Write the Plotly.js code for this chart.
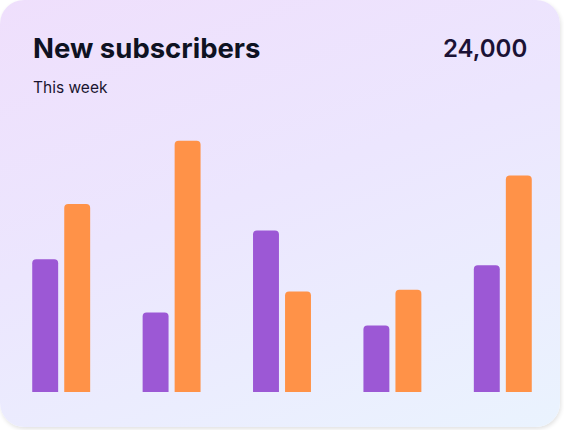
<!DOCTYPE html>
<html>
<head>
<meta charset="utf-8">
<script src="https://cdn.plot.ly/plotly-3.0.1.min.js"></script>
<style>
  html, body { margin: 0; padding: 0; background: #ffffff; }
  #wrap { position: relative; width: 564px; height: 430px; overflow: hidden; background: #ffffff; }
  #card {
    position: absolute; left: 0; top: 0; width: 560px; height: 427px;
    border-radius: 24px;
    background: linear-gradient(160deg, #EFDFFC 0%, #ECE6FE 45%, #EAF3FE 100%);
    box-shadow: 1px 2px 4px rgba(0,0,0,0.12);
  }
  #chart { position: absolute; left: 0; top: 0; width: 564px; height: 430px; }
</style>
</head>
<body>
<div id="wrap">
  <div id="card"></div>
  <div id="chart"></div>
</div>
<script>
// Data
const categories = ["Mon", "Tue", "Wed", "Thu", "Fri"];
const seriesA = [2220, 1330, 2700, 1110, 2120];   // purple
const seriesB = [3140, 4200, 1680, 1710, 3620];   // orange
const titleText = "New subscribers";
const subtitleText = "This week";
const totalText = "24,000";

const traces = [
  { type: "bar", x: categories, y: seriesA, name: "A",
    marker: { color: "#9C58D5", line: { width: 0 } }, hoverinfo: "none" },
  { type: "bar", x: categories, y: seriesB, name: "B",
    marker: { color: "#FF9248", line: { width: 0 } }, hoverinfo: "none" }
];

const layout = {
  width: 564, height: 430,
  margin: { l: 6, r: 6, t: 120, b: 38, pad: 0 },
  paper_bgcolor: "rgba(0,0,0,0)",
  plot_bgcolor: "rgba(0,0,0,0)",
  barmode: "group",
  bargap: 0.42,
  bargroupgap: 0.19,
  barcornerradius: 4,
  showlegend: false,
  xaxis: { type: "category", range: [-0.5, 4.5], showticklabels: false, showgrid: false,
           zeroline: false, showline: false, ticks: "", fixedrange: true },
  yaxis: { range: [0, 4546], showticklabels: false, showgrid: false, zeroline: false,
           showline: false, ticks: "", fixedrange: true },
  font: { family: "Inter, 'Noto Sans', sans-serif" },
  annotations: [
    { text: titleText, xref: "paper", yref: "paper", x: (33 - 6) / 552, y: (392 - 48) / 272,
      xanchor: "left", yanchor: "middle", showarrow: false, xshift: -2,
      font: { size: 27.5, color: "#0E1222", weight: 700, family: "Inter, sans-serif" } },
    { text: subtitleText, xref: "paper", yref: "paper", x: (33 - 6) / 552, y: (392 - 87) / 272,
      xanchor: "left", yanchor: "middle", showarrow: false, xshift: -2,
      font: { size: 15.5, color: "#1A1530", weight: 400, family: "Inter, sans-serif" } },
    { text: totalText, xref: "paper", yref: "paper", x: (528 - 6) / 552, y: (392 - 48) / 272,
      xanchor: "right", yanchor: "middle", showarrow: false, xshift: 1,
      font: { size: 24, color: "#1B1235", weight: 600, family: "Inter, sans-serif" } }
  ]
};

Plotly.newPlot("chart", traces, layout, { displayModeBar: false, staticPlot: true });
</script>
</body>
</html>
